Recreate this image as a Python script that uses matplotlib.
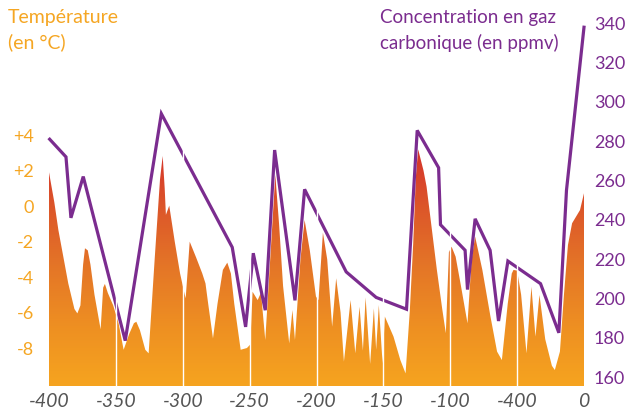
import numpy as np
import matplotlib.pyplot as plt
from matplotlib.colors import LinearSegmentedColormap
from matplotlib.patches import Polygon

# --- data ---
years_temp = [-400, -396, -393, -385.6, -381, -378.8, -376.5, -374.5, -373.1, -371, -369, -366,
              -361.4, -359.5, -358.2, -356, -352, -348, -344.2, -340, -336.5, -334.7, -332,
              -328, -325.5, -321, -317, -315, -313.5, -312.6, -310.1, -306, -302, -299.3,
              -297.8, -294.8, -290, -285.4, -283, -281, -277.4, -274, -270, -266.7, -264,
              -261.5, -256.7, -252, -249.5, -247.8, -244, -241.5, -238.3, -233, -230.8, -228,
              -225, -220.4, -218, -216.1, -212, -208.9, -205, -200.4, -198.5, -195.2, -192,
              -188.3, -185.3, -182, -179.5, -174.5, -171, -167.8, -165.3, -163.3, -159.9,
              -157.1, -155.4, -153.4, -150.6, -148.9, -142.4, -137.3, -133.4, -130.2, -127.7,
              -125.7, -124, -120, -117.7, -110, -106, -103.3, -101, -99, -96, -92, -87.1,
              -84, -81.4, -76, -70, -65, -61.4, -57, -54, -52.7, -50, -47, -43, -39.3, -36.3,
              -33.3, -29, -24, -21.8, -18, -15, -12, -8.9, -3, 0]
temp_c = [1.9, 0.2, -1.35, -4.36, -5.8, -6.05, -5.6, -3.3, -2.38, -2.5, -3.3, -5.0,
          -6.95, -4.6, -4.39, -4.9, -5.6, -6.6, -8.1, -7.2, -6.6, -6.52, -7.0,
          -8.1, -8.3, -3.0, 1.5, 2.82, 1.0, -0.5, 0.02, -2.0, -3.8, -4.73,
          -5.2, -2.01, -2.9, -3.8, -4.36, -5.5, -7.46, -5.5, -3.6, -3.19, -3.8,
          -5.5, -8.1, -8.0, -7.8, -4.83, -5.3, -4.88, -7.55, -1.0, 1.75, -1.0,
          -4.5, -7.74, -5.86, -7.55, -3.0, -0.79, -2.5, -5.1, -5.3, -1.5, -3.0,
          -6.8, -4.07, -6.0, -8.77, -5.3, -8.3, -5.67, -8.15, -5.15, -8.9,
          -5.77, -8.1, -5.58, -8.86, -6.23, -7.36, -8.68, -9.43, -5.86, -2.1,
          1.65, 3.19, 2.0, 1.09, -3.6, -5.8, -7.17, -2.6, -2.29, -2.85, -4.5, -6.61,
          -3.0, -1.73, -3.6, -6.2, -8.2, -8.68, -5.5, -3.8, -3.6, -3.64, -5.0, -8.3, -4.55, -7.36,
          -5.01, -7.5, -9.0, -9.24, -8.2, -5.0, -2.2, -0.97, -0.23, 0.72]

years_co2 = [-399.5, -387.3, -383.6, -374.4, -343, -316, -263, -253, -247.3, -238.3, -231.3,
             -216.1, -208.9, -177.8, -155.4, -132.7, -124.7, -108.7, -107.3, -88.9, -87.1,
             -81.4, -70.2, -63.9, -56.9, -32.5, -18.8, -13.1, 0]
co2_ppmv = [281, 272, 241, 262, 178.5, 294, 226, 185.5, 223, 194, 275.5,
            199, 255.5, 213.5, 200.5, 194.5, 285.5, 266.5, 237.5, 224.5, 204.5,
            240.5, 224.5, 188.5, 219, 207.5, 182.5, 255, 338]

xticks = [-400, -350, -300, -250, -200, -150, -100, -50, 0]
xlabels = ['-400', '-350', '-300', '-250', '-200', '-150', '-100', '-400', '0']
temp_ticks = [4, 2, 0, -2, -4, -6, -8]
temp_labels = ['+4', '+2', '0', '-2', '-4', '-6', '-8']
co2_ticks = [160, 180, 200, 220, 240, 260, 280, 300, 320, 340]

orange = '#F5A623'
purple = '#7B2C8F'

plt.rcParams['font.family'] = ['Lato', 'DejaVu Sans']

fig = plt.figure(figsize=(6.27, 4.13), dpi=100)
ax = fig.add_axes([49 / 627, 27 / 413, 535 / 627, 366 / 413])
t_lo, t_hi = -10.14, 10.48
ax.set_xlim(-400, 0)
ax.set_ylim(t_lo, t_hi)

# gradient fill clipped to the temperature curve
cmap = LinearSegmentedColormap.from_list(
    'heat', ['#F6A41F', '#EE8F22', '#E47527', '#DC552A', '#D4302B'])
grad = np.linspace(0, 1, 256).reshape(-1, 1)
im = ax.imshow(grad, extent=[-400, 0, t_lo, 3.4], origin='lower', aspect='auto',
               cmap=cmap, zorder=1)
verts = [(years_temp[0], t_lo)] + list(zip(years_temp, temp_c)) + [(years_temp[-1], t_lo)]
poly = Polygon(verts, closed=True, facecolor='none', edgecolor='none',
               transform=ax.transData)
ax.add_patch(poly)
im.set_clip_path(poly)

for s in ax.spines.values():
    s.set_visible(False)
ax.set_yticks(temp_ticks)
ax.set_yticklabels(temp_labels)
ax.tick_params(axis='y', length=0, pad=11, labelcolor=orange, labelsize=13)
ax.set_xticks(xticks)
ax.set_xticklabels(xlabels, style='italic', color='#555555')
ax.tick_params(axis='x', length=0, pad=5, labelsize=14)

ax2 = ax.twinx()
ax2.set_ylim(155.42, 341.68)
ax2.plot(years_co2, co2_ppmv, color=purple, lw=2.3, solid_joinstyle='miter',
         clip_on=False, zorder=3)
for s in ax2.spines.values():
    s.set_visible(False)
ax2.set_yticks(co2_ticks)
ax2.tick_params(axis='y', length=0, pad=7, labelcolor=purple, labelsize=13)

# white separators on top of everything
for x in xticks[1:-1]:
    ax2.axvline(x, color='white', lw=1, zorder=5)

fig.text(8 / 627, 1 - 9 / 413, 'Température\n(en °C)', ha='left', va='top',
         color=orange, fontsize=14, linespacing=1.5)
fig.text(380 / 627, 1 - 9 / 413, 'Concentration en gaz\ncarbonique (en ppmv)',
         ha='left', va='top', color=purple, fontsize=13.5, linespacing=1.5)

fig.savefig('out.png', dpi=100)
